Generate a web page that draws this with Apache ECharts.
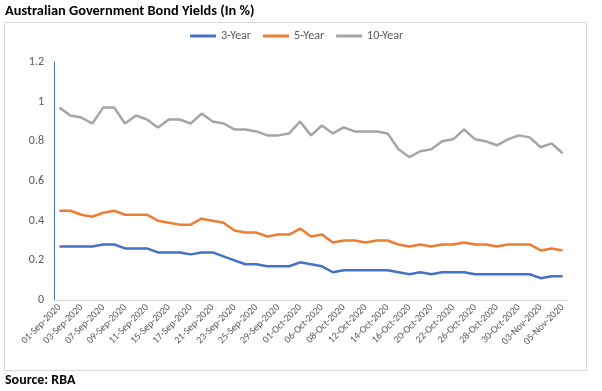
<!DOCTYPE html>
<html>
<head>
<meta charset="utf-8">
<script src="https://cdn.jsdelivr.net/npm/echarts@6/dist/echarts.min.js"></script>
<style>
html,body{margin:0;padding:0;background:#fff;}
#chart{width:602px;height:391px;}
</style>
</head>
<body>
<div id="chart"></div>
<script>
const categories = [
  '01-Sep-2020','02-Sep-2020','03-Sep-2020','04-Sep-2020','07-Sep-2020','08-Sep-2020','09-Sep-2020','10-Sep-2020',
  '11-Sep-2020','14-Sep-2020','15-Sep-2020','16-Sep-2020','17-Sep-2020','18-Sep-2020','21-Sep-2020','22-Sep-2020',
  '23-Sep-2020','24-Sep-2020','25-Sep-2020','28-Sep-2020','29-Sep-2020','30-Sep-2020','01-Oct-2020','02-Oct-2020',
  '06-Oct-2020','07-Oct-2020','08-Oct-2020','09-Oct-2020','12-Oct-2020','13-Oct-2020','14-Oct-2020','15-Oct-2020',
  '16-Oct-2020','19-Oct-2020','20-Oct-2020','21-Oct-2020','22-Oct-2020','23-Oct-2020','26-Oct-2020','27-Oct-2020',
  '28-Oct-2020','29-Oct-2020','30-Oct-2020','02-Nov-2020','03-Nov-2020','04-Nov-2020','05-Nov-2020'
];
const yield3 = [
  0.27,0.27,0.27,0.27,0.28,0.28,0.26,0.26,0.26,0.24,0.24,0.24,0.23,0.24,0.24,0.22,
  0.20,0.18,0.18,0.17,0.17,0.17,0.19,0.18,0.17,0.14,0.15,0.15,0.15,0.15,0.15,0.14,
  0.13,0.14,0.13,0.14,0.14,0.14,0.13,0.13,0.13,0.13,0.13,0.13,0.11,0.12,0.12
];
const yield5 = [
  0.45,0.45,0.43,0.42,0.44,0.45,0.43,0.43,0.43,0.40,0.39,0.38,0.38,0.41,0.40,0.39,
  0.35,0.34,0.34,0.32,0.33,0.33,0.36,0.32,0.33,0.29,0.30,0.30,0.29,0.30,0.30,0.28,
  0.27,0.28,0.27,0.28,0.28,0.29,0.28,0.28,0.27,0.28,0.28,0.28,0.25,0.26,0.25
];
const yield10 = [
  0.97,0.93,0.92,0.89,0.97,0.97,0.89,0.93,0.91,0.87,0.91,0.91,0.89,0.94,0.90,0.89,
  0.86,0.86,0.85,0.83,0.83,0.84,0.90,0.83,0.88,0.84,0.87,0.85,0.85,0.85,0.84,0.76,
  0.72,0.75,0.76,0.80,0.81,0.86,0.81,0.80,0.78,0.81,0.83,0.82,0.77,0.79,0.74
];
const seriesNames = ['3-Year','5-Year','10-Year'];
const colors = ['#4472C4','#ED7D31','#A5A5A5'];
const yTicks = [0,0.2,0.4,0.6,0.8,1,1.2];

const font = 'Carlito, "Liberation Sans Narrow", "DejaVu Sans Condensed", "Liberation Sans", sans-serif';
const chart = echarts.init(document.getElementById('chart'));
const dataSets = [yield3, yield5, yield10];
chart.setOption({
  animation: false,
  textStyle: { fontFamily: font },
  graphic: [
    { type: 'rect', shape: { x: 4.5, y: 22.5, width: 582, height: 348 }, style: { fill: 'none', stroke: '#D9D9D9', lineWidth: 1 }, silent: true },
    { type: 'text', left: 5, top: 4, style: { text: 'Australian Government Bond Yields (In %)', font: 'bold 14.4px ' + font, fill: '#000' } },
    { type: 'text', left: 5, top: 373, style: { text: 'Source: RBA', font: 'bold 14px ' + font, fill: '#000' } }
  ],
  legend: {
    top: 25, left: 185, padding: 5,
    itemWidth: 26, itemHeight: 3, itemGap: 12,
    icon: 'rect',
    textStyle: { fontSize: 12, color: '#595959', fontFamily: font },
    data: seriesNames
  },
  grid: { left: 54, right: 34, top: 62, bottom: 91 },
  xAxis: {
    type: 'category',
    data: categories,
    boundaryGap: true,
    axisLine: { lineStyle: { color: '#D9D9D9', width: 1 } },
    axisTick: { show: false },
    axisLabel: { interval: 1, rotate: 45, fontSize: 10, color: '#595959', margin: 6, fontFamily: font },
    splitLine: { show: false }
  },
  yAxis: {
    type: 'value',
    min: yTicks[0], max: yTicks[yTicks.length - 1], interval: 0.2,
    axisLine: { show: true, lineStyle: { color: '#4472C4', width: 1 } },
    axisTick: { show: false },
    splitLine: { show: false },
    axisLabel: { fontSize: 12, color: '#595959', margin: 10, fontFamily: font,
      formatter: v => String(Math.round(v * 10) / 10) }
  },
  series: seriesNames.map((n, i) => ({
    name: n, type: 'line', data: dataSets[i], symbol: 'none',
    lineStyle: { color: colors[i], width: 2.5 }, itemStyle: { color: colors[i] }
  }))
});
</script>
</body>
</html>
